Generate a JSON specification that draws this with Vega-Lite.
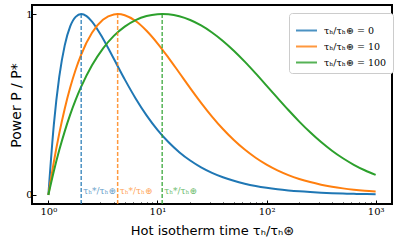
{
  "$schema": "https://vega.github.io/schema/vega-lite/v6.json",
  "width": 360,
  "height": 199,
  "autosize": {"type": "none"},
  "padding": {"left": 32, "top": 5, "right": 7, "bottom": 43},
  "config": {
    "view": {"stroke": "black", "strokeWidth": 2},
    "axis": {"grid": false, "domain": false, "tickColor": "black", "labelColor": "black", "titleColor": "black"}
  },
  "datasets": {
    "curves": [
      {"t": 1, "p": 0, "s": "0"},
      {"t": 1.122, "p": 0.3877, "s": "0"},
      {"t": 1.2589, "p": 0.6535, "s": "0"},
      {"t": 1.4125, "p": 0.8270, "s": "0"},
      {"t": 1.5849, "p": 0.9314, "s": "0"},
      {"t": 1.7783, "p": 0.9844, "s": "0"},
      {"t": 2, "p": 1, "s": "0"},
      {"t": 2.2387, "p": 0.9886, "s": "0"},
      {"t": 2.5119, "p": 0.9585, "s": "0"},
      {"t": 3.1623, "p": 0.8649, "s": "0"},
      {"t": 3.9811, "p": 0.7524, "s": "0"},
      {"t": 5.0119, "p": 0.6389, "s": "0"},
      {"t": 6.3096, "p": 0.5335, "s": "0"},
      {"t": 7.9433, "p": 0.4402, "s": "0"},
      {"t": 10, "p": 0.36, "s": "0"},
      {"t": 12.589, "p": 0.2925, "s": "0"},
      {"t": 15.849, "p": 0.2365, "s": "0"},
      {"t": 19.953, "p": 0.1904, "s": "0"},
      {"t": 25.119, "p": 0.1529, "s": "0"},
      {"t": 31.623, "p": 0.1225, "s": "0"},
      {"t": 39.811, "p": 0.0980, "s": "0"},
      {"t": 50.119, "p": 0.0782, "s": "0"},
      {"t": 63.096, "p": 0.0624, "s": "0"},
      {"t": 79.433, "p": 0.0497, "s": "0"},
      {"t": 100, "p": 0.0396, "s": "0"},
      {"t": 125.89, "p": 0.0315, "s": "0"},
      {"t": 158.49, "p": 0.0251, "s": "0"},
      {"t": 199.53, "p": 0.0199, "s": "0"},
      {"t": 251.19, "p": 0.0159, "s": "0"},
      {"t": 316.23, "p": 0.0126, "s": "0"},
      {"t": 398.11, "p": 0.0100, "s": "0"},
      {"t": 501.19, "p": 0.0080, "s": "0"},
      {"t": 630.96, "p": 0.0063, "s": "0"},
      {"t": 794.33, "p": 0.0050, "s": "0"},
      {"t": 1000, "p": 0.0040, "s": "0"},

      {"t": 1, "p": 0, "s": "10"},
      {"t": 1.122, "p": 0.1822, "s": "10"},
      {"t": 1.2589, "p": 0.3404, "s": "10"},
      {"t": 1.4125, "p": 0.4768, "s": "10"},
      {"t": 1.5849, "p": 0.5936, "s": "10"},
      {"t": 1.7783, "p": 0.6924, "s": "10"},
      {"t": 1.9953, "p": 0.7749, "s": "10"},
      {"t": 2.5119, "p": 0.8964, "s": "10"},
      {"t": 3.1623, "p": 0.9680, "s": "10"},
      {"t": 3.9811, "p": 0.9980, "s": "10"},
      {"t": 4.3166, "p": 1, "s": "10"},
      {"t": 5.0119, "p": 0.9936, "s": "10"},
      {"t": 6.3096, "p": 0.9614, "s": "10"},
      {"t": 7.9433, "p": 0.9077, "s": "10"},
      {"t": 10, "p": 0.8385, "s": "10"},
      {"t": 12.589, "p": 0.7594, "s": "10"},
      {"t": 15.849, "p": 0.6754, "s": "10"},
      {"t": 19.953, "p": 0.5909, "s": "10"},
      {"t": 25.119, "p": 0.5095, "s": "10"},
      {"t": 31.623, "p": 0.4335, "s": "10"},
      {"t": 39.811, "p": 0.3647, "s": "10"},
      {"t": 50.119, "p": 0.3038, "s": "10"},
      {"t": 63.096, "p": 0.2509, "s": "10"},
      {"t": 79.433, "p": 0.2057, "s": "10"},
      {"t": 100, "p": 0.1677, "s": "10"},
      {"t": 125.89, "p": 0.1360, "s": "10"},
      {"t": 158.49, "p": 0.1099, "s": "10"},
      {"t": 199.53, "p": 0.0885, "s": "10"},
      {"t": 251.19, "p": 0.0711, "s": "10"},
      {"t": 316.23, "p": 0.0569, "s": "10"},
      {"t": 398.11, "p": 0.0455, "s": "10"},
      {"t": 501.19, "p": 0.0364, "s": "10"},
      {"t": 630.96, "p": 0.0290, "s": "10"},
      {"t": 794.33, "p": 0.0231, "s": "10"},
      {"t": 1000, "p": 0.0184, "s": "10"},

      {"t": 1, "p": 0, "s": "100"},
      {"t": 1.122, "p": 0.1313, "s": "100"},
      {"t": 1.2589, "p": 0.2480, "s": "100"},
      {"t": 1.4125, "p": 0.3516, "s": "100"},
      {"t": 1.5849, "p": 0.4436, "s": "100"},
      {"t": 1.7783, "p": 0.5251, "s": "100"},
      {"t": 1.9953, "p": 0.5971, "s": "100"},
      {"t": 2.5119, "p": 0.7169, "s": "100"},
      {"t": 3.1623, "p": 0.8093, "s": "100"},
      {"t": 3.9811, "p": 0.8793, "s": "100"},
      {"t": 5.0119, "p": 0.9307, "s": "100"},
      {"t": 6.3096, "p": 0.9665, "s": "100"},
      {"t": 7.9433, "p": 0.9888, "s": "100"},
      {"t": 10, "p": 0.9990, "s": "100"},
      {"t": 11.05, "p": 1, "s": "100"},
      {"t": 12.589, "p": 0.9983, "s": "100"},
      {"t": 15.849, "p": 0.9875, "s": "100"},
      {"t": 19.953, "p": 0.9669, "s": "100"},
      {"t": 25.119, "p": 0.9370, "s": "100"},
      {"t": 31.623, "p": 0.8983, "s": "100"},
      {"t": 39.811, "p": 0.8514, "s": "100"},
      {"t": 50.119, "p": 0.7971, "s": "100"},
      {"t": 63.096, "p": 0.7368, "s": "100"},
      {"t": 79.433, "p": 0.6719, "s": "100"},
      {"t": 100, "p": 0.6044, "s": "100"},
      {"t": 125.89, "p": 0.5362, "s": "100"},
      {"t": 158.49, "p": 0.4694, "s": "100"},
      {"t": 199.53, "p": 0.4056, "s": "100"},
      {"t": 251.19, "p": 0.3463, "s": "100"},
      {"t": 316.23, "p": 0.2924, "s": "100"},
      {"t": 398.11, "p": 0.2445, "s": "100"},
      {"t": 501.19, "p": 0.2027, "s": "100"},
      {"t": 630.96, "p": 0.1668, "s": "100"},
      {"t": 794.33, "p": 0.1364, "s": "100"},
      {"t": 1000, "p": 0.1109, "s": "100"}
    ],
    "optima": [
      {"t": 2, "s": "0"},
      {"t": 4.3166, "s": "10"},
      {"t": 11.05, "s": "100"}
    ]
  },
  "layer": [
    {
      "data": {"name": "curves"},
      "mark": {"type": "line", "strokeWidth": 2, "interpolate": "monotone"},
      "encoding": {
        "x": {
          "field": "t", "type": "quantitative",
          "scale": {"type": "log", "domain": [0.7079, 1412.5], "nice": false, "zero": false},
          "axis": {
            "values": [1,2,3,4,5,6,7,8,9,10,20,30,40,50,60,70,80,90,100,200,300,400,500,600,700,800,900,1000],
            "labelExpr": "datum.value==1?'10⁰':datum.value==10?'10¹':datum.value==100?'10²':datum.value==1000?'10³':''",
            "labelFont": "DejaVu Serif", "labelFontSize": 10,
            "labelOverlap": false, "labelFlush": false, "labelBound": false,
            "tickSize": {"condition": {"test": "datum.value==1||datum.value==10||datum.value==100||datum.value==1000", "value": -4}, "value": -2},
            "tickWidth": 1,
            "labelPadding": 6,
            "title": "Hot isotherm time τₕ/τₕ⊛",
            "titleFont": "DejaVu Sans", "titleFontSize": 13, "titleFontWeight": "normal",
            "titlePadding": 6
          }
        },
        "y": {
          "field": "p", "type": "quantitative",
          "scale": {"domain": [-0.05, 1.05], "nice": false, "zero": false},
          "axis": {
            "values": [0, 1],
            "format": "d",
            "labelFont": "DejaVu Serif", "labelFontSize": 10,
            "tickSize": -4, "tickWidth": 1, "labelPadding": 4,
            "title": "Power P / P*",
            "titleFont": "DejaVu Sans", "titleFontSize": 14, "titleFontWeight": "normal",
            "titleX": -16, "titleY": 100, "titleAngle": -90,
            "titleAlign": "center", "titleBaseline": "middle"
          }
        },
        "color": {
          "field": "s", "type": "nominal",
          "scale": {"domain": ["0", "10", "100"], "range": ["#1f77b4", "#ff7f0e", "#2ca02c"]},
          "legend": {
            "orient": "none", "legendX": 257, "legendY": 8,
            "title": null,
            "labelExpr": "'τₕ/τₕ⊛ = ' + datum.label",
            "labelFont": "DejaVu Serif", "labelFontSize": 9.5,
            "symbolType": "stroke", "symbolSize": 441, "symbolStrokeWidth": 2,
            "labelOffset": 6,
            "rowPadding": -3,
            "padding": 6,
            "fillColor": "white", "strokeColor": "#cccccc", "cornerRadius": 3
          }
        }
      }
    },
    {
      "data": {"name": "optima"},
      "mark": {"type": "rule", "strokeDash": [4, 2], "strokeWidth": 1.5, "opacity": 0.8},
      "encoding": {
        "x": {"field": "t", "type": "quantitative"},
        "y": {"datum": -0.05},
        "y2": {"datum": 1},
        "color": {"field": "s", "type": "nominal"}
      }
    },
    {
      "data": {"name": "optima"},
      "mark": {"type": "text", "text": "τₕ*/τₕ⊛", "align": "left", "baseline": "alphabetic", "dx": 2, "dy": -1, "font": "DejaVu Serif", "fontSize": 9, "opacity": 0.7},
      "encoding": {
        "x": {"field": "t", "type": "quantitative"},
        "y": {"datum": 0},
        "color": {"field": "s", "type": "nominal"}
      }
    },
    {
      "mark": {"type": "rule", "color": "black", "strokeDash": [4, 2], "strokeWidth": 1.2},
      "encoding": {"y": {"datum": 1}}
    }
  ]
}
